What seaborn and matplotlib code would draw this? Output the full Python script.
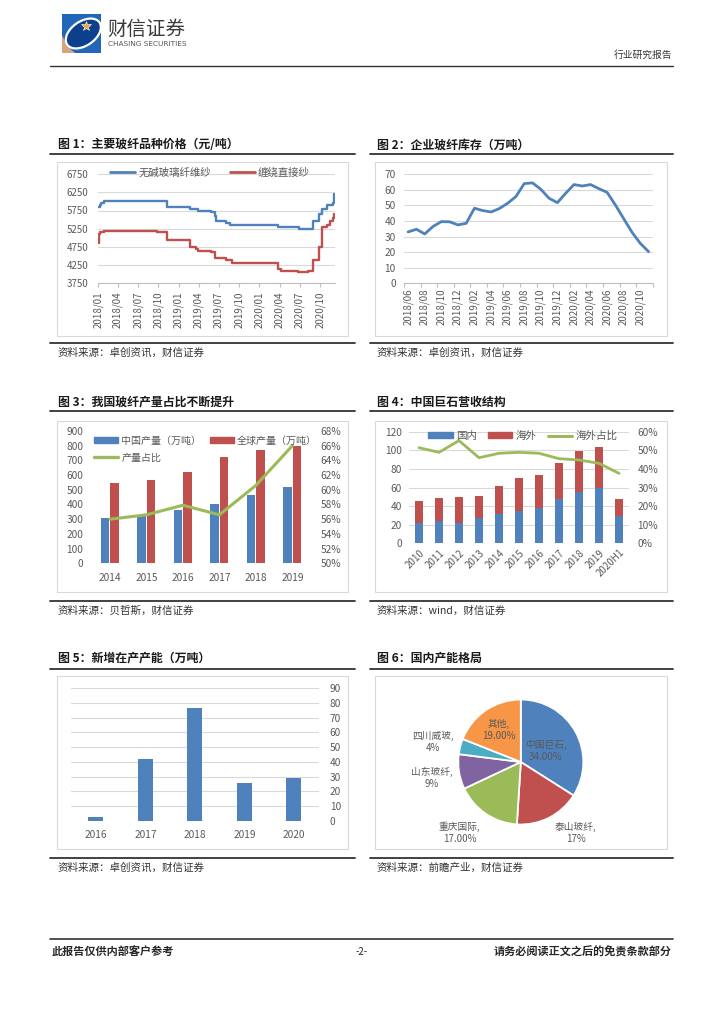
import numpy as np
import pandas as pd
import matplotlib
matplotlib.use('Agg')
import matplotlib.pyplot as plt
import matplotlib.dates as mdates
from matplotlib.patches import Rectangle, Patch, Polygon, Ellipse
from matplotlib.lines import Line2D
import seaborn as sns

# ---------------- data ----------------
# fig 1: price steps (date the price changed, new price)
yarn_dates = ['2018-01-01', '2018-01-08', '2018-01-15', '2018-01-26', '2018-11-11',
              '2019-02-22', '2019-03-29', '2019-05-28', '2019-06-13', '2019-06-20',
              '2019-08-05', '2019-08-20', '2020-03-25', '2020-06-28', '2020-09-01',
              '2020-09-28', '2020-10-08', '2020-10-31', '2020-11-28', '2020-12-05']
yarn_price = [5850, 5900, 5950, 6000, 5850,
              5800, 5750, 5700, 5600, 5450,
              5400, 5350, 5300, 5250, 5450,
              5650, 5800, 5900, 5950, 6200]
roving_dates = ['2018-01-01', '2018-01-05', '2018-01-12', '2018-01-28', '2018-09-24',
                '2018-11-11', '2019-02-22', '2019-03-22', '2019-03-29', '2019-05-28',
                '2019-06-16', '2019-08-05', '2019-08-28', '2020-03-25', '2020-04-10',
                '2020-06-25', '2020-08-10', '2020-09-01', '2020-09-28', '2020-10-08',
                '2020-11-03', '2020-11-15', '2020-11-28', '2020-12-05']
roving_price = [4850, 5100, 5150, 5200, 5150,
                4950, 4750, 4700, 4650, 4600,
                4450, 4400, 4300, 4150, 4100,
                4050, 4100, 4400, 4750, 5300,
                5350, 5450, 5550, 5650]

# fig 2: inventory (万吨)
inv_months = ['2018/06', '2018/07', '2018/08', '2018/09', '2018/10', '2018/11', '2018/12',
              '2019/01', '2019/02', '2019/03', '2019/04', '2019/05', '2019/06', '2019/07',
              '2019/08', '2019/09', '2019/10', '2019/11', '2019/12', '2020/01', '2020/02',
              '2020/03', '2020/04', '2020/05', '2020/06', '2020/07', '2020/08', '2020/09',
              '2020/10', '2020/11']
inventory = [33, 34.7, 31.7, 36.5, 39.6, 39.5, 37.5, 38.5, 48.2, 46.7, 45.8, 48, 51.4, 55.7,
             64, 64.5, 60.4, 54.6, 51.8, 57.8, 63.4, 62.5, 63.4, 60.8, 58.4, 50.3, 41.5,
             32.8, 25.7, 20.3]

# fig 3: output
years3 = ['2014', '2015', '2016', '2017', '2018', '2019']
china_output = [305, 320, 360, 405, 465, 520]
global_output = [545, 565, 620, 720, 770, 800]
china_share = [56.0, 56.6, 57.9, 56.6, 60.6, 66.0]

# fig 4: revenue structure
years4 = ['2010', '2011', '2012', '2013', '2014', '2015', '2016', '2017', '2018', '2019', '2020H1']
domestic = [22.2, 24.0, 22.2, 27.2, 31.2, 35.1, 38.4, 47.3, 54.8, 59.5, 29.4]
overseas = [23.7, 25.0, 27.6, 23.7, 30.4, 34.8, 35.1, 38.7, 44.1, 44.4, 18.6]
overseas_share = [51.4, 48.9, 55.2, 46.0, 48.4, 48.9, 48.4, 45.5, 44.8, 43.0, 37.6]

# fig 5: new capacity
years5 = ['2016', '2017', '2018', '2019', '2020']
new_capacity = [2.5, 42, 76.5, 25.7, 29.2]

# fig 6: capacity share
companies = ['中国巨石', '泰山玻纤', '重庆国际', '山东玻纤', '四川威玻', '其他']
cap_share = [34, 17, 17, 9, 4, 19]
cap_labels = ['34.00%', '17%', '17.00%', '9%', '4%', '19.00%']

titles = ['图 1：主要玻纤品种价格（元/吨）', '图 2：企业玻纤库存（万吨）',
          '图 3：我国玻纤产量占比不断提升', '图 4：中国巨石营收结构',
          '图 5：新增在产产能（万吨）', '图 6：国内产能格局']
sources = ['资料来源：卓创资讯，财信证券', '资料来源：卓创资讯，财信证券',
           '资料来源：贝哲斯，财信证券', '资料来源：wind，财信证券',
           '资料来源：卓创资讯，财信证券', '资料来源：前瞻产业，财信证券']

# ---------------- style ----------------
sns.set_style('white')
plt.rcParams['font.family'] = ['Noto Sans CJK SC', 'DejaVu Sans']
plt.rcParams['axes.unicode_minus'] = False

BLUE, RED, GREEN = '#4F81BD', '#C0504D', '#9BBB59'
PIE_COLORS = ['#4F81BD', '#C0504D', '#9BBB59', '#8064A2', '#4BACC6', '#F79646']
TICK = '#595959'
GRID = '#d9d9d9'
FS = 7  # tick label size

W, H = 724, 1024
fig = plt.figure(figsize=(W / 100, H / 100), dpi=100)


def box(x0, y0, x1, y1):
    return [x0 / W, 1 - y1 / H, (x1 - x0) / W, (y1 - y0) / H]


def hline(x0, x1, y, color='#333333', lw=1.2):
    fig.add_artist(Line2D([x0 / W, x1 / W], [1 - y / H] * 2, color=color, lw=lw))


def frame(x0, y0, x1, y1):
    fig.add_artist(Rectangle((x0 / W, 1 - y1 / H), (x1 - x0) / W, (y1 - y0) / H,
                             fill=False, ec=GRID, lw=0.8))


def ftext(x, y, s, **kw):
    fig.text(x / W, 1 - y / H, s, **kw)


def clean(ax, bottom=False):
    for k, s in ax.spines.items():
        s.set_visible(k == 'bottom' and bottom)
    ax.spines['bottom'].set_color('#bfbfbf')
    ax.spines['bottom'].set_linewidth(0.8)
    ax.set(xlabel='', ylabel='')
    ax.set_facecolor('none')


# ---------------- header / footer ----------------
axl = fig.add_axes(box(61.7, 14, 101, 53))
axl.set_xlim(0, 1)
axl.set_ylim(0, 1)
axl.axis('off')
axl.add_patch(Rectangle((0, 0), 1, 1, fc='#2166b8', ec='none'))
axl.add_patch(Polygon([(0, 0), (0.34, 0), (0.12, 0.2), (0.03, 0.42), (0, 0.45)], fc='#d8a47f', ec='none'))
ell = Ellipse((0.55, 0.5), 1.0, 0.62, angle=35, fc='#0c3f8c', ec='white', lw=1.6)
axl.add_patch(ell)
ell.set_clip_path(axl.patches[0])
axl.plot([0.62], [0.7], marker='*', ms=7, color='#f3a53b', mec='white', mew=0.4)

ftext(107, 29, '财信证券', fontsize=14, color='#3a3a3a', va='center')
ftext(108, 44.5, 'CHASING SECURITIES', fontsize=5.3, color='#555555', va='center',
      family='DejaVu Sans')
ftext(672, 55, '行业研究报告', fontsize=7, color='#333333', ha='right', va='center')
hline(50, 673, 66, lw=1.0)

hline(50, 673, 939, lw=1.2)
ftext(52, 952, '此报告仅供内部客户参考', fontsize=8, fontweight='bold', va='center')
ftext(362, 952, '-2-', fontsize=7, ha='center', va='center')
ftext(672, 952, '请务必阅读正文之后的免责条款部分', fontsize=8, fontweight='bold',
      ha='right', va='center')

# ---------------- panel frames ----------------
cols = [(50, 355, 57, 348, 58), (370, 673, 375, 667, 377)]
rows = [(145, 154, 162, 336, 343, 353), (402, 411, 421, 592, 601, 611),
        (658, 669, 676, 849, 858, 868)]
for i in range(6):
    r, c = divmod(i, 2)
    lx0, lx1, bx0, bx1, tx = cols[c]
    ty, ly, by0, by1, bl, sy = rows[r]
    ftext(tx, ty, titles[i], fontsize=8.6, fontweight='bold', va='center', color='#1a1a1a')
    hline(lx0, lx1, ly, lw=1.3)
    frame(bx0, by0, bx1, by1)
    hline(lx0, lx1, bl, lw=1.3)
    ftext(tx, sy, sources[i], fontsize=7.6, va='center', color='#333333')

# ---------------- fig 1 ----------------
ax1 = fig.add_axes(box(98, 165, 335, 283.3))
df1a = pd.DataFrame({'date': pd.to_datetime(yarn_dates), 'price': yarn_price})
df1b = pd.DataFrame({'date': pd.to_datetime(roving_dates), 'price': roving_price})
sns.lineplot(data=df1a, x='date', y='price', ax=ax1, color=BLUE, lw=1.7,
             drawstyle='steps-post', estimator=None)
sns.lineplot(data=df1b, x='date', y='price', ax=ax1, color=RED, lw=1.7,
             drawstyle='steps-post', estimator=None)
ax1.set_xlim(pd.Timestamp('2018-01-01'), pd.Timestamp('2020-12-08'))
ax1.set_ylim(3750, 7000)
ax1.set_yticks(np.arange(3750, 6751, 500))
ax1.xaxis.set_major_locator(mdates.MonthLocator(bymonth=[1, 4, 7, 10]))
ax1.xaxis.set_major_formatter(mdates.DateFormatter('%Y/%m'))
ax1.tick_params(axis='x', rotation=90, labelsize=FS, labelcolor=TICK, length=3,
                color='#bfbfbf', width=0.8, pad=3, bottom=True)
ax1.tick_params(axis='y', length=0, labelsize=FS, labelcolor=TICK, pad=7)
ax1.grid(axis='y', color=GRID, lw=0.8)
ax1.grid(axis='x', visible=False)
clean(ax1, bottom=True)
ax1.legend([Line2D([], [], color=BLUE, lw=2), Line2D([], [], color=RED, lw=2)],
           ['无碱玻璃纤维纱', '缠绕直接纱'], loc='center', ncol=2, frameon=False,
           bbox_to_anchor=(210 / W, 1 - 172.3 / H), bbox_transform=fig.transFigure,
           fontsize=7.5, handlelength=2.4, handletextpad=0.3, columnspacing=1.8,
           borderpad=0, labelcolor=TICK)

# ---------------- fig 2 ----------------
ax2 = fig.add_axes(box(404, 174.3, 652.7, 283.3))
n2 = len(inv_months)
sns.lineplot(x=np.arange(n2), y=inventory, ax=ax2, color=BLUE, lw=2)
ax2.set_xlim(-0.5, n2 - 0.5)
ax2.set_ylim(0, 70)
ax2.set_yticks(range(0, 71, 10))
ax2.set_xticks(range(0, n2, 2))
ax2.set_xticklabels(inv_months[::2])
ax2.set_xticks(list(np.arange(-0.5, n2 - 1, 2)) + [n2 - 0.5], minor=True)
ax2.tick_params(axis='x', which='major', rotation=90, labelsize=FS, labelcolor=TICK,
                length=0, pad=4)
ax2.tick_params(axis='x', which='minor', length=3, color='#bfbfbf', width=0.8, bottom=True)
ax2.tick_params(axis='y', length=0, labelsize=7.3, labelcolor=TICK, pad=6)
ax2.grid(axis='y', color=GRID, lw=0.8)
ax2.grid(axis='x', visible=False)
clean(ax2, bottom=True)

# ---------------- fig 3 ----------------
ax3 = fig.add_axes(box(91.7, 431, 310.6, 563.3))
df3 = pd.DataFrame({'year': years3 * 2,
                    'series': ['中国产量（万吨）'] * len(years3) + ['全球产量（万吨）'] * len(years3),
                    'value': china_output + global_output})
sns.barplot(data=df3, x='year', y='value', hue='series', palette=[BLUE, RED], width=0.52,
            gap=0.1, saturation=1, errorbar=None, legend=False, ax=ax3, linewidth=0)
ax3.set_ylim(0, 900)
ax3.set_yticks(range(0, 901, 100))
ax3b = ax3.twinx()
sns.lineplot(x=np.arange(len(years3)), y=china_share, ax=ax3b, color=GREEN, lw=2.2)
ax3.set_xlim(-0.5, len(years3) - 0.5)
ax3b.set_ylim(50, 68)
ax3b.set_yticks(range(50, 69, 2))
ax3b.set_yticklabels([f'{v}%' for v in range(50, 69, 2)])
ax3.tick_params(axis='x', length=0, labelsize=7.3, labelcolor=TICK, pad=7)
ax3.tick_params(axis='y', length=0, labelsize=7.3, labelcolor=TICK, pad=6)
ax3b.tick_params(axis='y', length=0, labelsize=7.3, labelcolor=TICK, pad=7)
ax3.grid(False)
ax3b.grid(False)
clean(ax3)
clean(ax3b)
ax3b.legend([Patch(color=BLUE), Line2D([], [], color=GREEN, lw=2.4), Patch(color=RED)],
            ['中国产量（万吨）', '产量占比', '全球产量（万吨）'], loc='upper left', ncol=2,
            frameon=False, bbox_to_anchor=(89 / W, 1 - 430.5 / H),
            bbox_transform=fig.transFigure, fontsize=7.2, handlelength=2.4,
            handleheight=0.5, handletextpad=0.35, columnspacing=0.8, labelspacing=0.7,
            borderpad=0, labelcolor=TICK)

# ---------------- fig 4 ----------------
ax4 = fig.add_axes(box(409, 431.7, 629, 543.3))
totals = list(np.add(domestic, overseas))
sns.barplot(x=years4, y=totals, color=RED, width=0.38, saturation=1, errorbar=None,
            ax=ax4, linewidth=0)
sns.barplot(x=years4, y=domestic, color=BLUE, width=0.38, saturation=1, errorbar=None,
            ax=ax4, linewidth=0)
ax4.set_ylim(0, 120)
ax4.set_yticks(range(0, 121, 20))
ax4b = ax4.twinx()
sns.lineplot(x=np.arange(len(years4)), y=overseas_share, ax=ax4b, color=GREEN, lw=2)
ax4.set_xlim(-0.5, len(years4) - 0.5)
ax4b.set_ylim(0, 60)
ax4b.set_yticks(range(0, 61, 10))
ax4b.set_yticklabels([f'{v}%' for v in range(0, 61, 10)])
ax4.tick_params(axis='x', length=0, labelsize=FS, labelcolor=TICK, pad=3)
plt.setp(ax4.get_xticklabels(), rotation=45, ha='right', va='top', rotation_mode='anchor')
ax4.tick_params(axis='y', length=0, labelsize=7.3, labelcolor=TICK, pad=5)
ax4b.tick_params(axis='y', length=0, labelsize=7.3, labelcolor=TICK, pad=6)
ax4.grid(axis='y', color=GRID, lw=0.8)
ax4.grid(axis='x', visible=False)
ax4.set_axisbelow(True)
ax4b.grid(False)
clean(ax4)
clean(ax4b)
ax4b.legend([Patch(color=BLUE), Patch(color=RED), Line2D([], [], color=GREEN, lw=2.2)],
            ['国内', '海外', '海外占比'], loc='center', ncol=3, frameon=False,
            bbox_to_anchor=(523 / W, 1 - 436 / H), bbox_transform=fig.transFigure,
            fontsize=7.6, handlelength=2.3, handleheight=0.5, handletextpad=0.35,
            columnspacing=1.0, borderpad=0, labelcolor=TICK)

# ---------------- fig 5 ----------------
ax5 = fig.add_axes(box(71, 688.3, 318.7, 820.7))
sns.barplot(x=years5, y=new_capacity, color=BLUE, width=0.3, saturation=1, errorbar=None,
            ax=ax5, linewidth=0)
ax5.set_ylim(0, 90)
ax5.set_yticks(range(0, 91, 10))
ax5.yaxis.tick_right()
ax5.tick_params(axis='x', length=0, labelsize=7.3, labelcolor=TICK, pad=7)
ax5.tick_params(axis='y', length=0, labelsize=7.3, labelcolor=TICK, pad=8)
ax5.grid(axis='y', color=GRID, lw=0.8)
ax5.grid(axis='x', visible=False)
ax5.set_axisbelow(True)
clean(ax5)

# ---------------- fig 6 ----------------
pie_label_xy = [(0.40, 0.18), (0.88, -1.13), (-0.98, -1.13), (-1.43, -0.26),
                (-1.40, 0.32), (-0.35, 0.51)]
ax6 = fig.add_axes(box(520.8 - 62.5, 762 - 62.5, 520.8 + 62.5, 762 + 62.5))
ax6.pie(cap_share, colors=PIE_COLORS, startangle=90, counterclock=False, radius=1,
        wedgeprops=dict(edgecolor='white', linewidth=1.3))
ax6.set_xlim(-1, 1)
ax6.set_ylim(-1, 1)
ax6.set_aspect('equal')
for name, lab, (px, py) in zip(companies, cap_labels, pie_label_xy):
    ax6.text(px, py, f'{name},\n{lab}', ha='center', va='center', fontsize=7,
             color=TICK, linespacing=1.25)

fig.savefig('out.png', dpi=100)
